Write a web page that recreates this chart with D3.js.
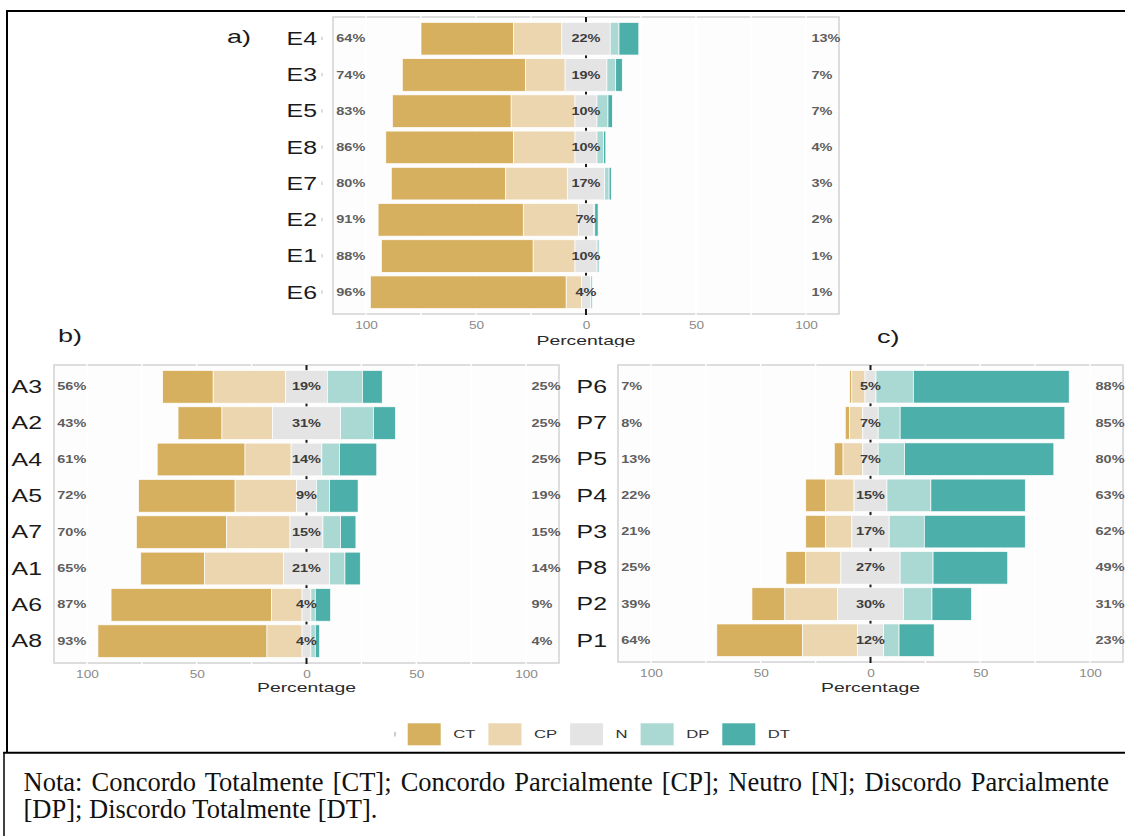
<!DOCTYPE html>
<html><head><meta charset="utf-8">
<script src="https://cdn.jsdelivr.net/npm/d3@7"></script>
<style>html,body{margin:0;padding:0;background:#fff;} svg{display:block;}</style>
</head><body>
<svg id="chart" width="1125" height="836"></svg>
<script>
// ---------- DATA ----------
const categories = ["CT", "CP", "N", "DP", "DT"];
const tickValues = [-100, -50, 0, 50, 100];

// Panel a)
const itemsA = ["E4", "E3", "E5", "E8", "E7", "E2", "E1", "E6"];
const ctA = [42, 56, 54, 58, 52, 66, 69, 89];
const cpA = [22, 18, 29, 28, 28, 25, 19, 7];
const nA  = [22, 19, 10, 10, 17, 7, 10, 4];
const dpA = [4, 4, 5, 3, 2, 0.5, 1, 1];
const dtA = [9, 3, 2, 1, 1, 1.5, 0, 0];

// Panel b)
const itemsB = ["A3", "A2", "A4", "A5", "A7", "A1", "A6", "A8"];
const ctB = [23, 20, 40, 44, 41, 29, 73, 77];
const cpB = [33, 23, 21, 28, 29, 36, 14, 16];
const nB  = [19, 31, 14, 9, 15, 21, 4, 4];
const dpB = [16, 15, 8, 6, 8, 7, 2, 2];
const dtB = [9, 10, 17, 13, 7, 7, 7, 2];

// Panel c)
const itemsC = ["P6", "P7", "P5", "P4", "P3", "P8", "P2", "P1"];
const ctC = [1, 2, 4, 9, 9, 9, 15, 39];
const cpC = [6, 6, 9, 13, 12, 16, 24, 25];
const nC  = [5, 7, 7, 15, 17, 27, 30, 12];
const dpC = [17, 10, 12, 20, 16, 15, 13, 7];
const dtC = [71, 75, 68, 43, 46, 34, 18, 16];

const noteLines = [
  "Nota: Concordo Totalmente [CT]; Concordo Parcialmente [CP]; Neutro [N]; Discordo Parcialmente",
  "[DP]; Discordo Totalmente [DT]."
];

// ---------- STYLE ----------
const COLORS = {CT: "#D6AF5F", CP: "#EBD6AF", N: "#E4E4E4", DP: "#AAD8D3", DT: "#4DAFA9"};
const SANS = "'Liberation Sans', Arial, Helvetica, sans-serif";
const SERIF = "'Liberation Serif', 'Times New Roman', serif";
const SX = 1.45;

const svg = d3.select("#chart");
svg.append("rect").attr("width", 1125).attr("height", 836).attr("fill", "#fff");
const defs = svg.append("defs");

function stext(parent, x, y, str, size, opts = {}) {
  return parent.append("text")
    .attr("transform", `translate(${x},${y}) scale(${opts.sx || SX},1)`)
    .attr("text-anchor", opts.anchor || "start")
    .attr("font-family", opts.family || SANS)
    .attr("font-size", size)
    .attr("font-weight", opts.weight || "normal")
    .attr("fill", opts.fill || "#222")
    .text(str);
}

function drawPanel(cfg) {
  const {id, items, ct, cp, n, dp, dt, box, letter, letterPos, yLabelX, clip, yTicks} = cfg;
  const g = svg.append("g");
  if (clip) {
    defs.append("clipPath").attr("id", "clip" + id).append("rect")
      .attr("x", clip.x0).attr("y", clip.y0)
      .attr("width", clip.x1 - clip.x0).attr("height", clip.y1 - clip.y0);
    g.attr("clip-path", `url(#clip${id})`);
  }
  const x = d3.scaleLinear().domain([-115, 115]).range([box.left, box.right]);
  const y = d3.scalePoint().domain(items).range([box.top, box.bottom]).padding(0.6);
  const bh = y.step() * 0.9;

  // panel background + border
  g.append("rect").attr("x", box.left).attr("y", box.top)
    .attr("width", box.right - box.left).attr("height", box.bottom - box.top)
    .attr("fill", "#fdfdfd").attr("stroke", "#d5d5d5").attr("stroke-width", 1.6);

  // grid lines (white)
  g.selectAll("line.grid").data(d3.range(-100, 101, 25)).join("line")
    .attr("class", "grid")
    .attr("x1", d => x(d)).attr("x2", d => x(d))
    .attr("y1", box.top - 1).attr("y2", box.bottom + 1)
    .attr("stroke", "#ffffff").attr("stroke-width", 1.4);

  // zero reference line
  g.append("line").attr("x1", x(0)).attr("x2", x(0))
    .attr("y1", box.top).attr("y2", box.bottom + 1)
    .attr("stroke", "#1a1a1a").attr("stroke-width", 2);

  // rows
  const rows = items.map((it, i) => {
    const vals = [ct[i], cp[i], n[i], dp[i], dt[i]];
    let start = -(ct[i] + cp[i] + n[i] / 2);
    const segs = vals.map((v, k) => {
      const s = {key: categories[k], x0: start, x1: start + v, item: it};
      start += v;
      return s;
    });
    return {item: it, segs,
      left: Math.round(ct[i] + cp[i]),
      mid: Math.round(n[i]),
      right: Math.round(dp[i] + dt[i])};
  });

  const rg = g.selectAll("g.row").data(rows).join("g").attr("class", "row");
  rg.selectAll("rect").data(r => r.segs).join("rect")
    .attr("x", d => x(d.x0))
    .attr("width", d => Math.max(0, x(d.x1) - x(d.x0)))
    .attr("y", d => y(d.item) - bh / 2)
    .attr("height", bh)
    .attr("fill", d => COLORS[d.key])
    .attr("stroke", "#ffffff").attr("stroke-width", 0.7);

  rows.forEach(r => {
    const cy = y(r.item);
    stext(g, x(-113.5), cy + 3.6, r.left + "%", 10, {weight: "bold", fill: "#5e5e5e"});
    stext(g, x(0), cy + 3.6, r.mid + "%", 10, {anchor: "middle", weight: "bold", fill: "#3c3c3c"});
    stext(g, x(102.5), cy + 3.6, r.right + "%", 10, {weight: "bold", fill: "#5e5e5e"});
    stext(g, yLabelX, cy + 6.3, r.item, 17.5, {anchor: "end", fill: "#1a1a1a", sx: 1.42});
    if (yTicks) {
      g.append("line").attr("x1", yLabelX + 5).attr("x2", yLabelX + 5)
        .attr("y1", cy - 2).attr("y2", cy + 1.5)
        .attr("stroke", "#bdbdbd").attr("stroke-width", 1);
    }
  });

  // x axis
  const axis = d3.axisBottom(x).tickValues(tickValues)
    .tickFormat(d => Math.abs(d)).tickSize(0).tickPadding(8);
  const ax = g.append("g").attr("transform", `translate(0,${box.bottom})`).call(axis);
  ax.select(".domain").remove();
  ax.selectAll("text").attr("font-family", SANS).attr("font-size", 10.5)
    .attr("fill", "#8a8a8a").attr("transform", "scale(1.3,1)");

  stext(g, x(0), box.bottom + cfg.titleOffset, "Percentage", 12.5,
    {anchor: "middle", sx: 1.55, fill: "#2a2a2a"});

  stext(svg, letterPos[0], letterPos[1], letter, 18, {sx: 1.5, fill: "#1a1a1a"});
}

drawPanel({id: "a", items: itemsA, ct: ctA, cp: cpA, n: nA, dp: dpA, dt: dtA,
  box: {left: 333, right: 839, top: 17, bottom: 314},
  letter: "a)", letterPos: [227, 43], yLabelX: 317, yTicks: true, titleOffset: 31,
  clip: {x0: 0, y0: 0, x1: 1125, y1: 347}});

drawPanel({id: "b", items: itemsB, ct: ctB, cp: cpB, n: nB, dp: dpB, dt: dtB,
  box: {left: 54, right: 559, top: 365, bottom: 663},
  letter: "b)", letterPos: [58, 342], yLabelX: 42, yTicks: false, titleOffset: 29,
  clip: {x0: 0, y0: 350, x1: 563, y1: 710}});

drawPanel({id: "c", items: itemsC, ct: ctC, cp: cpC, n: nC, dp: dpC, dt: dtC,
  box: {left: 618, right: 1123, top: 365, bottom: 662},
  letter: "c)", letterPos: [877, 343], yLabelX: 607, yTicks: false, titleOffset: 30,
  clip: null});

// ---------- LEGEND ----------
const lg = svg.append("g");
lg.append("line").attr("x1", 395).attr("x2", 395).attr("y1", 732).attr("y2", 736.5)
  .attr("stroke", "#9a9a9a").attr("stroke-width", 1);
let lx = 407.7;
categories.forEach(c => {
  lg.append("rect").attr("x", lx).attr("y", 723.3).attr("width", 33).attr("height", 22)
    .attr("fill", COLORS[c]);
  const t = stext(lg, lx + 45.5, 738.3, c, 11.5, {fill: "#333"});
  const w = t.node().getComputedTextLength() * SX;
  lx = lx + 45.5 + w + 13;
});

// ---------- FRAME ----------
const frame = svg.append("g").attr("stroke", "#000").attr("fill", "none");
frame.append("line").attr("x1", 6).attr("x2", 1125).attr("y1", 11).attr("y2", 11).attr("stroke-width", 2);
frame.append("line").attr("x1", 7).attr("x2", 7).attr("y1", 10).attr("y2", 753).attr("stroke-width", 2);
frame.append("line").attr("x1", 3.3).attr("x2", 1125).attr("y1", 752.7).attr("y2", 752.7).attr("stroke-width", 2);
frame.append("line").attr("x1", 4).attr("x2", 4).attr("y1", 752).attr("y2", 836).attr("stroke-width", 1.5);

// ---------- NOTE ----------
const noteX = 23.5, noteRight = 1109;
const n1 = svg.append("text").attr("x", noteX).attr("y", 790.5)
  .attr("font-family", SERIF).attr("font-size", 26.5).attr("fill", "#111")
  .text(noteLines[0]);
const target = noteRight - noteX;
const w1 = n1.node().getComputedTextLength();
if (w1 < target) {
  const spaces = (noteLines[0].match(/ /g) || []).length;
  n1.attr("word-spacing", (target - w1) / spaces);
} else {
  n1.attr("font-size", 26.5 * target / w1);
}
svg.append("text").attr("x", noteX).attr("y", 818.3)
  .attr("font-family", SERIF).attr("font-size", 26.5).attr("fill", "#111")
  .text(noteLines[1]);
</script>
</body></html>
